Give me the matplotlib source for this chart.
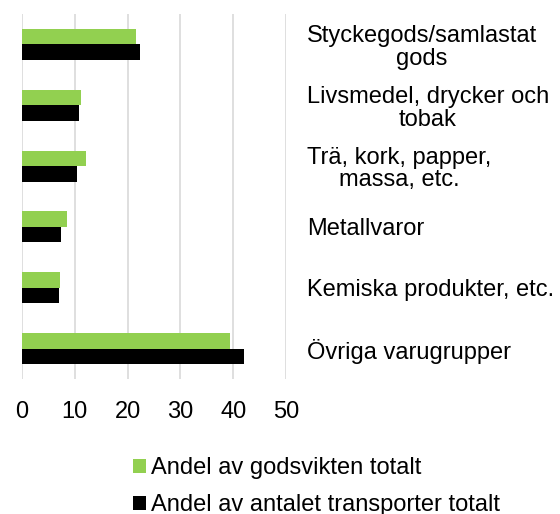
import numpy as np
import matplotlib.pyplot as plt

plt.rcParams['font.family'] = ['Liberation Sans', 'DejaVu Sans']

kategorier = ["Styckegods/samlastat\ngods", "Livsmedel, drycker och\ntobak",
              "Trä, kork, papper,\nmassa, etc.", "Metallvaror",
              "Kemiska produkter, etc.", "Övriga varugrupper"]
andel_vikt = [21.6, 11.2, 12.2, 8.6, 7.2, 39.3]
andel_transporter = [22.3, 10.8, 10.4, 7.3, 7.1, 42.1]
x_ticks = [0, 10, 20, 30, 40, 50]

fig = plt.figure(figsize=(5.6, 5.14), dpi=100)
ax = fig.add_axes([22/560, 1 - 379/514, (286 - 22)/560, (379 - 14)/514])

y = np.arange(len(kategorier))
h = 0.255
ax.barh(y - h/2, andel_vikt, height=h, color='#92d050', label='Andel av godsvikten totalt', zorder=3)
ax.barh(y + h/2, andel_transporter, height=h, color='#000000', label='Andel av antalet transporter totalt', zorder=3)

ax.set_xlim(0, 50)
ax.set_ylim(len(kategorier) - 0.5, -0.5)
ax.set_xticks(x_ticks)
ax.grid(axis='x', color='#d9d9d9', linewidth=1.2, zorder=0)
for s in ax.spines.values():
    s.set_visible(False)

ax.yaxis.tick_right()
ax.set_yticks(y)
ax.set_yticklabels(kategorier, fontsize=17, ha='left', multialignment='center', linespacing=1.05)
ax.tick_params(axis='y', length=0, pad=15)
ax.tick_params(axis='x', length=0, pad=16, labelsize=17)

fig.legend(loc='upper left', bbox_to_anchor=(133/560, 1 - 457/514), frameon=False,
           borderpad=0, borderaxespad=0, fontsize=17, handlelength=0.55, handleheight=0.55,
           handletextpad=0.2, labelspacing=0.65)

fig.savefig('out.png', dpi=100)
